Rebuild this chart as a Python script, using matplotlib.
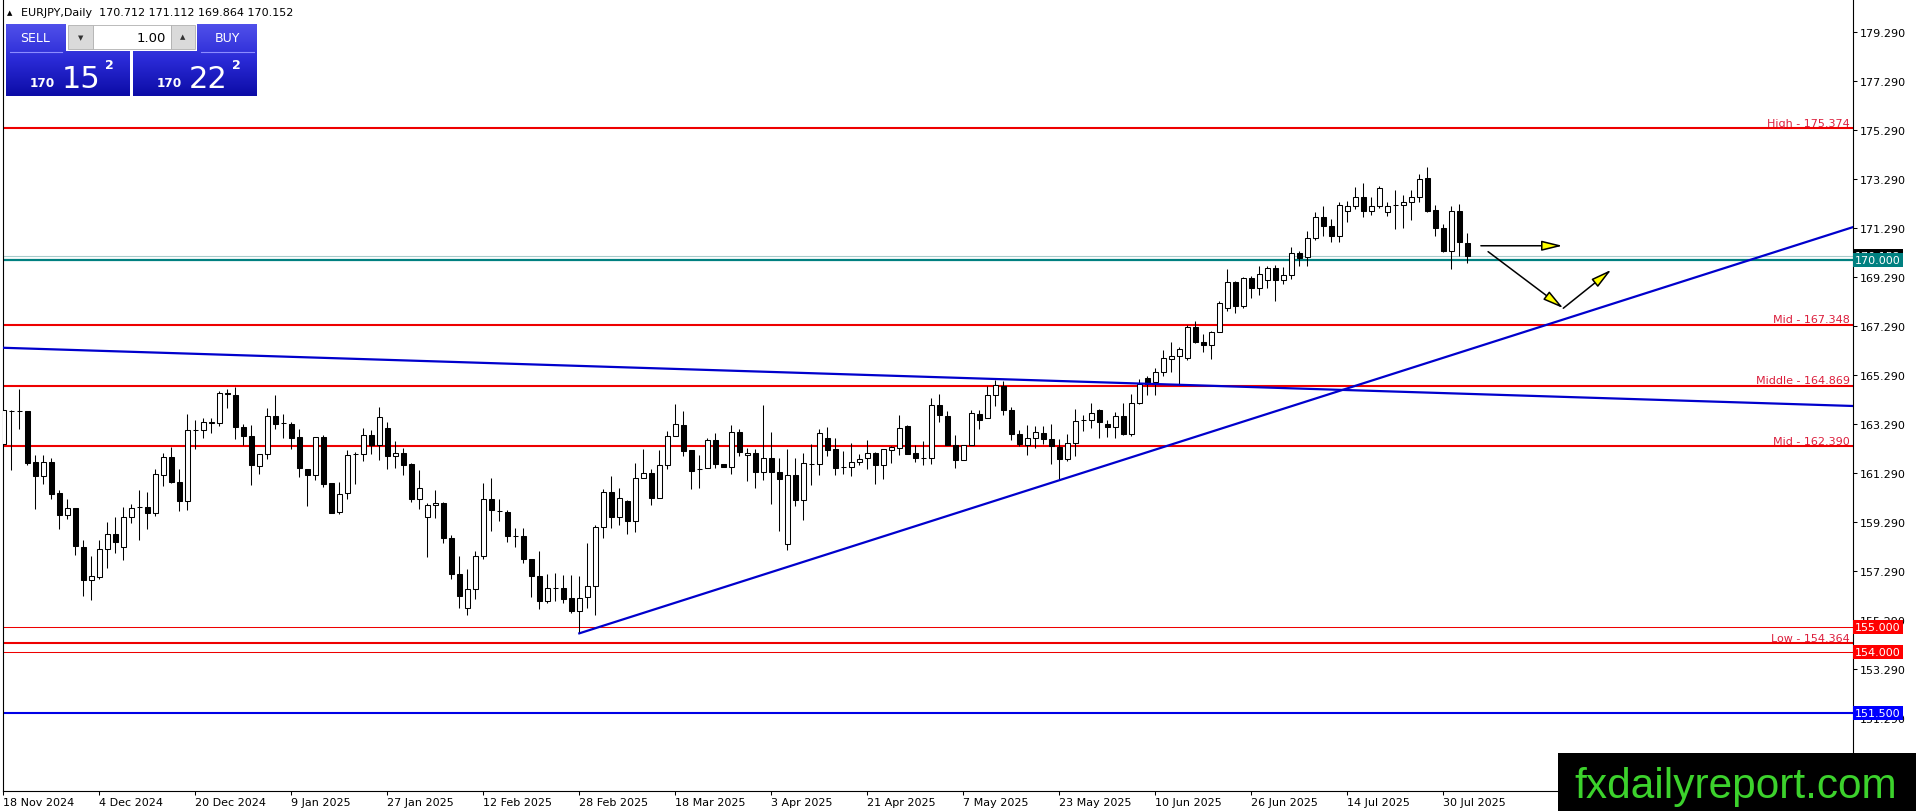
import matplotlib
matplotlib.use("Agg")
import matplotlib.pyplot as plt
import numpy as np
import pandas as pd
from matplotlib.patches import Rectangle, FancyArrowPatch
from matplotlib.colors import LinearSegmentedColormap

# EURJPY daily candles, 18 Nov 2024 .. 4 Aug 2025
opens = [162.50, 163.82, 163.82, 163.82, 161.75, 161.18, 161.75, 160.50, 159.58, 159.88,
         158.29, 156.93, 157.07, 158.19, 158.83, 158.29, 159.51, 159.91, 159.92, 159.68,
         161.21, 161.96, 160.94, 160.15, 163.07, 163.07, 163.36, 163.34, 164.58, 164.50,
         163.18, 162.81, 161.59, 162.07, 163.63, 163.34, 163.32, 162.77, 161.48, 161.24,
         162.77, 160.91, 159.72, 160.49, 162.07, 162.09, 162.87, 162.46, 163.14, 162.00,
         162.12, 161.69, 160.23, 159.51, 160.00, 160.08, 158.66, 157.20, 155.81, 156.59,
         157.92, 160.26, 159.76, 159.72, 158.74, 158.74, 157.79, 157.11, 156.08, 156.62,
         156.62, 156.21, 155.67, 156.25, 156.70, 159.11, 160.53, 159.51, 160.15, 159.34,
         161.10, 161.31, 160.29, 161.62, 162.81, 163.27, 162.23, 161.46, 161.51, 162.66,
         161.69, 161.55, 162.98, 162.03, 162.12, 161.35, 161.92, 161.35, 158.39, 161.21,
         160.19, 161.69, 161.66, 162.73, 162.27, 161.54, 161.55, 161.75, 161.92, 162.14,
         161.62, 162.23, 162.33, 163.22, 162.12, 161.93, 161.92, 164.06, 163.63, 162.46,
         161.82, 162.43, 163.72, 163.55, 164.50, 164.85, 163.86, 162.91, 162.43, 162.73,
         162.94, 162.70, 162.37, 161.89, 162.54, 163.45, 163.45, 163.86, 163.32, 163.18,
         163.63, 162.91, 164.17, 165.18, 165.01, 165.42, 165.96, 166.10, 165.99, 167.28,
         166.67, 166.51, 167.08, 168.03, 169.09, 168.14, 169.25, 168.85, 169.20, 169.66,
         169.20, 169.39, 170.27, 170.11, 170.88, 171.74, 171.37, 170.99, 172.01, 172.19,
         172.59, 172.01, 172.21, 171.94, 172.24, 172.24, 172.35, 172.59, 173.33, 172.05,
         171.29, 170.38, 172.01, 170.712]
highs = [163.86, 163.86, 164.72, 163.82, 162.03, 162.03, 161.93, 160.63, 160.26, 159.88,
         158.56, 157.92, 158.56, 159.31, 159.51, 159.92, 160.02, 160.63, 160.53, 161.48,
         162.14, 162.37, 161.48, 163.72, 163.45, 163.55, 163.55, 164.67, 164.72, 164.81,
         163.32, 163.25, 162.09, 163.95, 164.47, 163.72, 163.38, 163.11, 161.48, 162.77,
         162.84, 160.91, 160.94, 162.23, 162.16, 163.14, 163.07, 163.99, 163.38, 162.60,
         162.34, 161.71, 161.44, 160.06, 160.60, 160.12, 158.79, 157.92, 157.37, 158.13,
         160.91, 161.11, 160.23, 159.78, 159.06, 159.06, 157.79, 158.11, 157.20, 157.24,
         157.16, 157.14, 157.11, 158.43, 159.17, 160.67, 161.18, 160.71, 160.19, 161.73,
         162.30, 161.46, 162.26, 163.00, 164.13, 163.82, 162.23, 162.05, 162.73, 162.95,
         161.69, 163.28, 163.09, 162.33, 162.30, 164.09, 162.98, 161.92, 162.30, 161.92,
         162.13, 162.50, 163.09, 163.18, 162.73, 162.20, 162.54, 162.10, 162.64, 162.16,
         162.30, 162.41, 163.68, 163.25, 162.46, 162.60, 164.36, 164.54, 163.82, 162.87,
         162.46, 163.86, 163.86, 164.85, 165.12, 165.04, 164.00, 163.04, 163.28, 163.22,
         163.22, 163.32, 162.68, 162.91, 163.90, 163.68, 164.17, 163.93, 163.45, 163.79,
         164.17, 164.54, 165.15, 165.28, 165.58, 166.33, 166.64, 166.44, 167.35, 167.50,
         166.98, 167.12, 168.34, 169.63, 169.16, 169.29, 169.33, 169.77, 169.77, 169.80,
         169.70, 170.51, 170.38, 171.20, 171.94, 172.21, 171.67, 172.35, 172.42, 172.96,
         173.14, 172.55, 173.00, 172.35, 172.87, 172.65, 172.87, 173.50, 173.78, 172.24,
         171.47, 172.21, 172.28, 171.112]
lows = [162.50, 161.41, 163.11, 161.65, 159.83, 160.87, 160.23, 159.01, 159.42, 157.95,
        156.29, 156.12, 156.97, 157.43, 158.02, 157.77, 159.28, 158.56, 159.01, 159.55,
        160.76, 160.90, 159.74, 159.78, 162.27, 162.75, 162.95, 163.22, 163.95, 162.71,
        162.46, 160.80, 161.28, 161.86, 163.11, 162.75, 162.27, 161.14, 159.96, 161.01,
        160.73, 159.69, 159.62, 160.23, 160.87, 161.78, 162.09, 161.82, 161.45, 161.51,
        161.21, 160.12, 159.85, 157.88, 159.47, 158.43, 156.97, 155.81, 155.51, 156.16,
        157.79, 158.93, 159.33, 158.47, 158.29, 157.65, 156.25, 155.75, 155.98, 156.08,
        155.98, 155.57, 154.76, 155.80, 155.51, 158.66, 159.04, 159.17, 158.83, 158.90,
        161.10, 159.99, 160.29, 161.46, 162.81, 162.00, 160.64, 160.69, 161.51, 161.51,
        161.55, 161.28, 162.00, 160.98, 160.70, 161.01, 160.03, 158.93, 158.16, 159.96,
        159.38, 160.80, 161.21, 162.00, 161.21, 161.28, 161.19, 161.65, 161.48, 160.87,
        161.07, 161.73, 162.03, 162.09, 161.75, 161.62, 161.69, 163.38, 162.46, 161.51,
        161.82, 162.43, 163.09, 163.55, 164.03, 163.68, 162.64, 162.41, 162.05, 162.32,
        162.50, 161.69, 161.01, 161.78, 162.00, 163.00, 163.14, 162.73, 162.77, 162.73,
        162.87, 162.81, 164.13, 164.50, 164.50, 165.28, 165.42, 164.95, 165.93, 166.62,
        166.24, 165.94, 167.05, 167.93, 167.84, 168.03, 168.44, 168.57, 168.85, 168.34,
        169.02, 169.23, 169.74, 169.77, 170.83, 170.96, 170.75, 170.72, 171.56, 172.08,
        171.74, 171.83, 172.14, 171.78, 171.26, 171.29, 171.64, 172.38, 171.97, 170.96,
        170.34, 169.63, 170.18, 169.864]
closes = [163.86, 163.82, 163.82, 161.73, 161.18, 161.75, 160.46, 159.58, 159.88, 158.32,
          156.93, 157.11, 158.19, 158.83, 158.49, 159.51, 159.88, 159.91, 159.68, 161.28,
          161.96, 160.94, 160.15, 163.07, 163.07, 163.38, 163.40, 164.58, 164.53, 163.18,
          162.81, 161.62, 162.09, 163.63, 163.32, 163.34, 162.75, 161.51, 161.24, 162.77,
          160.87, 159.69, 160.44, 162.05, 162.07, 162.87, 162.46, 163.59, 162.00, 162.12,
          161.65, 160.23, 160.69, 160.01, 160.08, 158.66, 157.18, 156.28, 156.59, 157.92,
          160.26, 159.78, 159.76, 158.74, 158.74, 157.79, 157.11, 156.08, 156.62, 156.62,
          156.18, 155.67, 156.21, 156.70, 159.11, 160.53, 159.51, 160.29, 159.34, 161.10,
          161.31, 160.29, 161.62, 162.81, 163.29, 162.19, 161.37, 161.46, 162.66, 161.69,
          161.55, 162.98, 162.16, 162.13, 161.35, 161.92, 161.35, 161.05, 161.21, 160.19,
          161.71, 161.69, 162.95, 162.23, 161.51, 161.54, 161.75, 161.89, 162.14, 161.62,
          162.27, 162.35, 163.15, 162.09, 161.93, 161.93, 164.06, 163.68, 162.46, 161.82,
          162.43, 163.77, 163.45, 164.50, 164.88, 163.86, 162.91, 162.47, 162.73, 162.97,
          162.68, 162.41, 161.89, 162.54, 163.41, 163.45, 163.76, 163.38, 163.18, 163.63,
          162.91, 164.17, 164.95, 164.95, 165.42, 165.99, 166.10, 166.37, 167.26, 166.67,
          166.51, 167.08, 168.23, 169.09, 168.14, 169.25, 168.85, 169.43, 169.66, 169.20,
          169.39, 170.27, 170.07, 170.88, 171.74, 171.37, 170.99, 172.24, 172.19, 172.59,
          172.01, 172.21, 172.92, 172.21, 172.24, 172.35, 172.59, 173.30, 172.01, 171.29,
          170.38, 172.01, 170.72, 170.152]

dates = pd.bdate_range("2024-11-18", "2025-08-04")
dates = dates[~dates.isin(pd.to_datetime(["2024-12-25", "2025-01-01"]))]

price_ticks = np.arange(151.29, 179.3, 2.0)

level_names = ["High - 175.374", "Mid - 167.348", "Middle - 164.869", "Mid - 162.390", "Low - 154.364"]
level_values = [175.374, 167.348, 164.869, 162.390, 154.364]
thin_red_levels = [155.000, 154.000]
teal_level = 170.000
blue_level = 151.500
last_price = 170.152

# trend lines as (bar, price) end points
trend_down_x = [0.6, 232.2]
trend_down_y = [166.42, 164.04]
trend_up_x = [73, 232.2]
trend_up_y = [154.76, 171.34]

# projection arrows (bar, price)
arrow_paths = [((185.7, 170.58), (195.9, 170.58)),
               ((186.6, 170.34), (196.0, 168.03)),
               ((196.0, 168.03), (202.0, 169.60))]

W, H = 1916, 812
fig = plt.figure(figsize=(W / 100, H / 100), dpi=100)
fig.patch.set_facecolor("white")
ax = fig.add_axes([2.7 / W, (H - 791.8) / H, (1852.8 - 2.7) / W, (791.8 - 1) / H])
ax.set_facecolor("white")

x = np.arange(1, len(closes) + 1)
o = np.array(opens)
c = np.array(closes)
ax.vlines(x, lows, highs, colors="black", lw=0.75, zorder=3)
ax.bar(x, np.abs(c - o), bottom=np.minimum(o, c), width=0.6,
       color=np.where(c >= o, "white", "black"), edgecolor="black", lw=0.75, zorder=4)

# horizontal levels
for name, v in zip(level_names, level_values):
    ax.axhline(v, color="#ee0000", lw=1.5, zorder=2)
    ax.annotate(name, xy=(1, v), xycoords=("axes fraction", "data"), xytext=(-2, 1.8),
                textcoords="offset points", ha="right", va="baseline", fontsize=8, color="#dc1e3c")
for v in thin_red_levels:
    ax.axhline(v, color="#ee0000", lw=0.75, zorder=2)
ax.axhline(last_price, color="#a8cccc", lw=0.8, zorder=2)
ax.axhline(teal_level, color="#008080", lw=1.6, zorder=2)
ax.axhline(blue_level, color="#0000e6", lw=1.5, zorder=2)

ax.plot(trend_down_x, trend_down_y, color="#0000cc", lw=1.6, zorder=5)
ax.plot(trend_up_x, trend_up_y, color="#0000cc", lw=1.6, zorder=5)

for start, end in arrow_paths:
    ax.add_patch(FancyArrowPatch(start, end, arrowstyle="-|>,head_length=0.9,head_width=0.22",
                                 mutation_scale=14, facecolor="yellow", edgecolor="black",
                                 lw=1.1, shrinkA=0, shrinkB=0, zorder=6))

# price boxes on the scale
def price_box(v, fc, z):
    ax.annotate(f"{v:.3f}", xy=(1, v), xycoords=("axes fraction", "data"), xytext=(1.6, 0),
                textcoords="offset points", ha="left", va="center", fontsize=8, color="white",
                zorder=z, bbox=dict(boxstyle="square,pad=0.18", fc=fc, ec="none"))

price_box(last_price, "black", 6)
price_box(teal_level, "#008080", 7)
for v in thin_red_levels:
    price_box(v, "#ff0000", 7)
price_box(blue_level, "#0000ff", 7)

ax.set_xlim(0.925, 232.19)
ax.set_ylim(148.333, 180.611)
ax.yaxis.tick_right()
ax.set_yticks(price_ticks)
ax.set_yticklabels([f"{v:.3f}" for v in price_ticks])
ax.set_xticks(x[::12])
ax.set_xticklabels([f"{d.day} {d.strftime('%b %Y')}" for d in dates[::12]], ha="left")
ax.tick_params(axis="both", direction="out", length=2.6, width=0.75, labelsize=8, colors="black")
ax.tick_params(axis="y", pad=2.2)
ax.tick_params(axis="x", pad=2.0)
for s in ["left", "right", "bottom"]:
    ax.spines[s].set_linewidth(0.8)
    ax.spines[s].set_color("black")
ax.spines["top"].set_visible(False)

# overlay in pixel coordinates: header, trade panel, watermark
ov = fig.add_axes([0, 0, 1, 1], zorder=10)
ov.axis("off")

ov.text(6.5, 13, "▲", fontsize=5, va="center", ha="left", color="black")
ov.text(21.5, 13, "EURJPY,Daily  170.712 171.112 169.864 170.152", fontsize=8,
        va="center", ha="left", color="black")

grad = np.linspace(0, 1, 64).reshape(-1, 1)
blues = LinearSegmentedColormap.from_list("panel", ["#5050ea", "#2a2ad6", "#0c0ca6"])
for x0 in (6, 133):
    ov.imshow(grad, cmap=blues, extent=(x0, x0 + 124, 97, 25), aspect="auto", zorder=1)
ov.plot([10, 62], [52.5, 52.5], color="#8c8cff", lw=0.8, zorder=2)
ov.plot([201, 254], [52.5, 52.5], color="#8c8cff", lw=0.8, zorder=2)

ov.add_patch(Rectangle((66, 24.5), 131, 27, fc="#ffffff", ec="none", zorder=3))
ov.add_patch(Rectangle((68, 26), 25, 24, fc="#dadada", ec="#b0b0b0", lw=0.6, zorder=4))
ov.add_patch(Rectangle((93, 26), 78, 24, fc="white", ec="#b0b0b0", lw=0.6, zorder=4))
ov.add_patch(Rectangle((171, 26), 24, 24, fc="#dadada", ec="#b0b0b0", lw=0.6, zorder=4))
ov.text(80.5, 38.5, "▼", fontsize=5, ha="center", va="center", color="#333333", zorder=5)
ov.text(183, 37.5, "▲", fontsize=5, ha="center", va="center", color="#333333", zorder=5)
ov.text(166, 38, "1.00", fontsize=9.5, ha="right", va="center", color="black", zorder=5)

ov.text(35.5, 39, "SELL", fontsize=9, ha="center", va="center", color="white", zorder=5)
ov.text(227, 39, "BUY", fontsize=9, ha="center", va="center", color="white", zorder=5)
for xs, big in ((30, "15"), (157, "22")):
    ov.text(xs, 87, "170", fontsize=8.7, fontweight="bold", ha="left", va="baseline",
            color="white", zorder=5)
    ov.text(xs + 32, 87.5, big, fontsize=22, ha="left", va="baseline", color="white", zorder=5)
    ov.text(xs + 75, 69, "2", fontsize=9, fontweight="bold", ha="left", va="baseline",
            color="white", zorder=5)

ov.add_patch(Rectangle((1558, 754), 360, 60, fc="black", ec="none", zorder=6))
ov.text(1574, 798.5, "fxdailyreport.com", fontsize=30.5, family="Liberation Sans",
        ha="left", va="baseline", color="#3cd22c", zorder=7)

ov.set_xlim(0, W)
ov.set_ylim(H, 0)

fig.savefig("out.png", dpi=100, facecolor="white")
